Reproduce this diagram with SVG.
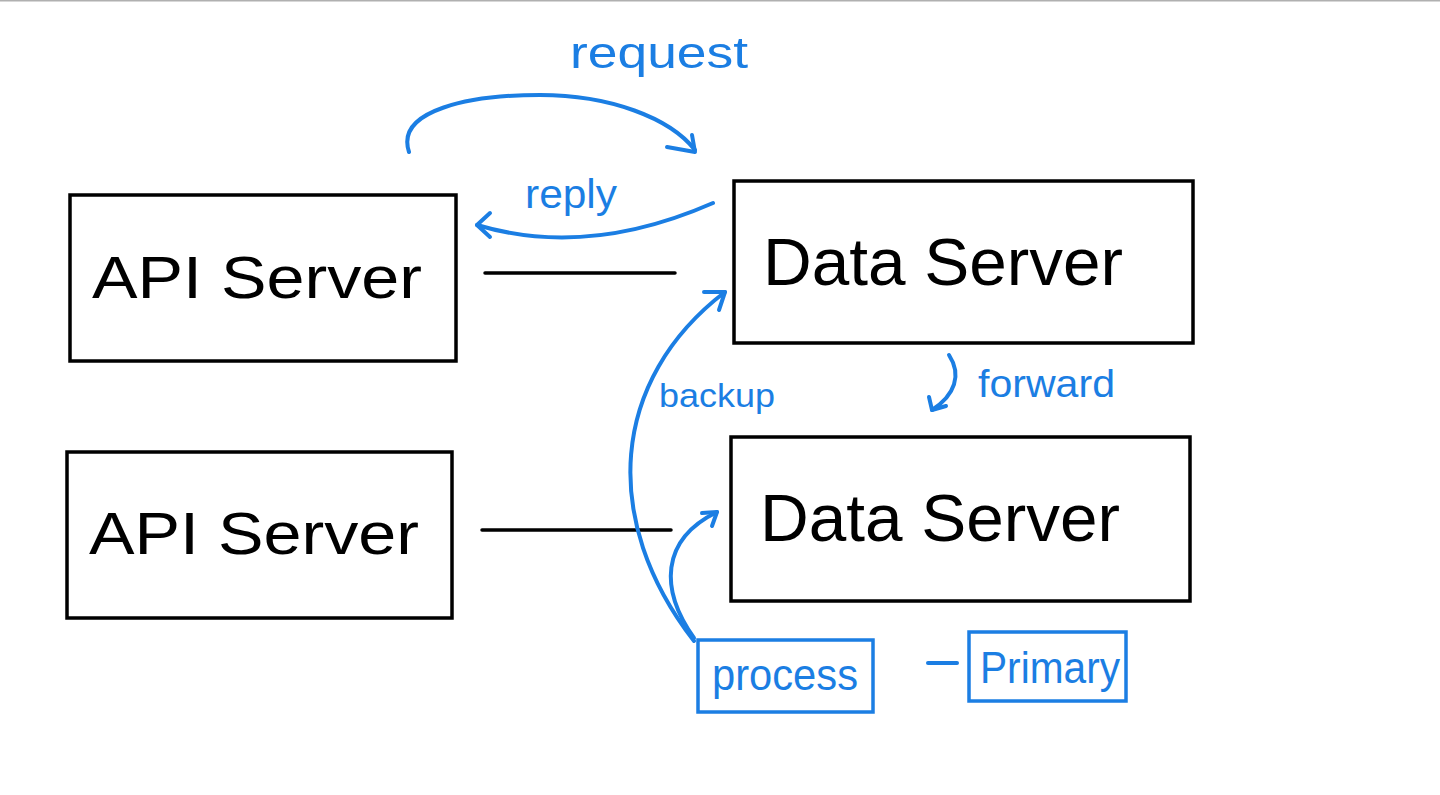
<svg xmlns="http://www.w3.org/2000/svg" width="1440" height="795" viewBox="0 0 1440 795">
<defs>
<style>
.box{fill:none;stroke:#000;stroke-width:3.5}
.bbox{fill:none;stroke:#1b7ee3;stroke-width:3.5}
.bl{fill:none;stroke:#1b7ee3;stroke-width:4;stroke-linecap:round;stroke-linejoin:round}
.k{fill:none;stroke:#000;stroke-width:3.5;stroke-linecap:round}
.t{font-family:"Liberation Sans",Arial,sans-serif;fill:#000}
.bt{font-family:"Liberation Sans",Arial,sans-serif;fill:#1b7ee3}
</style>
</defs>
<rect width="1440" height="795" fill="#fff"/>
<line x1="0" y1="0.5" x2="1440" y2="0.5" stroke="#b0b0b0" stroke-width="2"/>
<g id="api1">
<rect class="box" x="70" y="195" width="386" height="166"/>
<text class="t" x="92" y="298" font-size="60" textLength="330" lengthAdjust="spacingAndGlyphs">API Server</text>
</g>
<g id="api2">
<rect class="box" x="67" y="452" width="385" height="166"/>
<text class="t" x="89" y="554" font-size="60" textLength="330" lengthAdjust="spacingAndGlyphs">API Server</text>
</g>
<g id="data1">
<rect class="box" x="734" y="181" width="459" height="162"/>
<text class="t" x="763" y="285" font-size="66" textLength="360" lengthAdjust="spacingAndGlyphs">Data Server</text>
</g>
<g id="data2">
<rect class="box" x="731" y="437" width="459" height="164"/>
<text class="t" x="760" y="541" font-size="66" textLength="360" lengthAdjust="spacingAndGlyphs">Data Server</text>
</g>
<g id="process">
<rect class="bbox" x="698" y="640" width="175" height="72"/>
<text class="bt" x="712" y="690" font-size="44" textLength="146" lengthAdjust="spacingAndGlyphs">process</text>
</g>
<g id="primary">
<rect class="bbox" x="969" y="632" width="157" height="69"/>
<text class="bt" x="980" y="683" font-size="44" textLength="140" lengthAdjust="spacingAndGlyphs">Primary</text>
</g>
<g id="labels">
<text class="bt" x="570" y="68" font-size="44" textLength="178" lengthAdjust="spacingAndGlyphs">request</text>
<text class="bt" x="525" y="208" font-size="40" textLength="92" lengthAdjust="spacingAndGlyphs">reply</text>
<text class="bt" x="659" y="407" font-size="34" textLength="116" lengthAdjust="spacingAndGlyphs">backup</text>
<text class="bt" x="978" y="397" font-size="38" textLength="137" lengthAdjust="spacingAndGlyphs">forward</text>
</g>
<g id="connectors">
<line class="k" x1="485" y1="273" x2="675" y2="273"/>
<line class="k" x1="482" y1="530" x2="671" y2="530"/>
<line class="bl" x1="928" y1="663" x2="957" y2="663"/>
<path class="bl" d="M409 152 C395 110 470 95 540 95 C610 95 670 118 695 150"/>
<path class="bl" d="M667 147 L695 152 L692 135"/>
<path class="bl" d="M713 203 C640 235 560 250 477 225"/>
<path class="bl" d="M490 213 L477 225 L490 237"/>
<path class="bl" d="M694 641 C600 520 610 380 725 292"/>
<path class="bl" d="M704 292 L725 292 L719 310"/>
<path class="bl" d="M694 638 C660 590 660 540 717 512"/>
<path class="bl" d="M702 513 L717 512 L712 526"/>
<path class="bl" d="M949 355 C962 375 955 395 932 410"/>
<path class="bl" d="M929 397 L932 410 L946 406"/>
</g>
</svg>
